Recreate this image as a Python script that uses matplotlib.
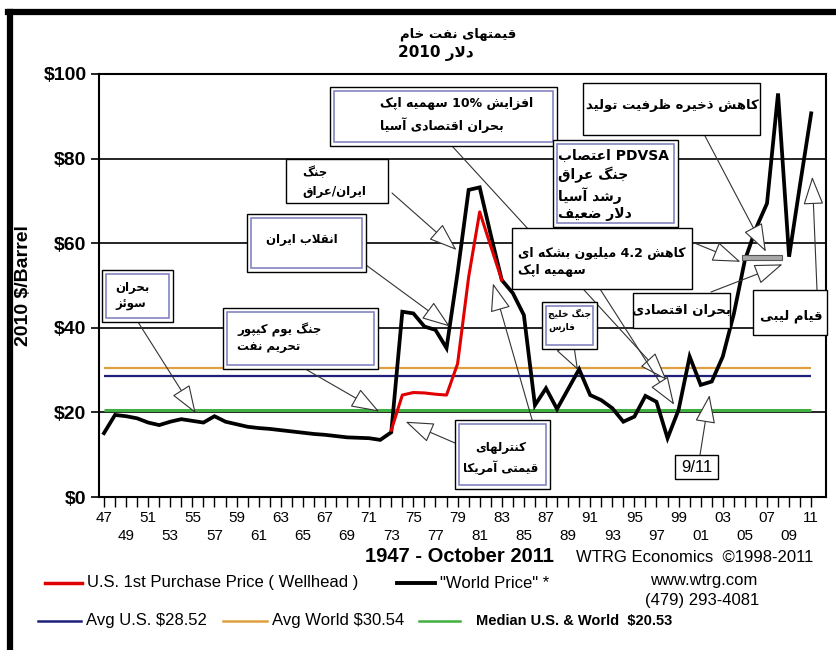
import re
import numpy as np
import matplotlib
matplotlib.use('Agg')
import matplotlib.pyplot as plt
from matplotlib.patches import Rectangle
from matplotlib.lines import Line2D

plt.rcParams['font.family'] = ['Liberation Sans', 'DejaVu Sans']

# ---- data ----
years = list(range(1947, 2012))
world_price = [15.1, 19.4, 19.1, 18.6, 17.6, 17.0, 17.8, 18.4, 18.0, 17.6,
               19.1, 17.8, 17.2, 16.6, 16.3, 16.1, 15.8, 15.5, 15.2, 14.9,
               14.7, 14.4, 14.1, 14.0, 13.9, 13.5, 15.3, 43.8, 43.4, 40.3,
               39.5, 35.2, 53.0, 72.6, 73.2, 62.0, 51.3, 48.2, 43.0, 21.7,
               25.7, 20.8, 25.5, 30.2, 24.1, 22.9, 21.0, 17.8, 19.0, 23.9,
               22.5, 13.9, 20.6, 33.2, 26.5, 27.3, 33.2, 43.3, 56.0, 63.5,
               69.4, 95.4, 56.8, 74.0, 90.7]
us_years = list(range(1973, 1984))
us_wellhead = [15.8, 24.1, 24.7, 24.6, 24.3, 24.1, 31.5, 52.0, 67.4, 59.3, 51.3]

avg_us = 28.52
avg_world = 30.54
median_all = 20.53

# gray marker bar near 2005-2008
bar_years = (2004.7, 2008.4)
bar_values = (56.0, 57.2)

W, H = 836, 650

# ---- simple persian shaping (contextual forms + rtl order) ----
DUAL = {'ئ': 0xFE89, 'ب': 0xFE8F, 'ت': 0xFE95, 'ج': 0xFE9D, 'ح': 0xFEA1, 'خ': 0xFEA5,
        'س': 0xFEB1, 'ش': 0xFEB5, 'ص': 0xFEB9, 'ض': 0xFEBD, 'ظ': 0xFEC5, 'ع': 0xFEC9,
        'ف': 0xFED1, 'ق': 0xFED5, 'ک': 0xFB8E, 'گ': 0xFB92, 'ل': 0xFEDD, 'م': 0xFEE1,
        'ن': 0xFEE5, 'ه': 0xFEE9, 'پ': 0xFB56, 'ی': 0xFBFC}
RIGHT = {'ا': 0xFE8D, 'آ': 0xFE81, 'د': 0xFEA9, 'ذ': 0xFEAB, 'ر': 0xFEAD, 'ز': 0xFEAF, 'و': 0xFEED}


def shape(s):
    out = []
    i = 0
    while i < len(s):
        c = s[i]
        jp = int(i > 0 and s[i - 1] in DUAL)
        nxt = s[i + 1] if i + 1 < len(s) else ''
        if c == 'ل' and nxt in ('ا', 'آ') and nxt:
            out.append(chr((0xFEFB if nxt == 'ا' else 0xFEF5) + jp))
            i += 2
            continue
        if c in DUAL:
            jn = int(nxt in DUAL or nxt in RIGHT)
            out.append(chr(DUAL[c] + [[0, 2], [1, 3]][jp][jn]))
        elif c in RIGHT:
            out.append(chr(RIGHT[c] + jp))
        else:
            out.append(c)
        i += 1
    return ''.join(out)


def fa(text):
    lines = []
    for line in text.split('\n'):
        parts = re.split(r'([A-Za-z0-9][A-Za-z0-9.%]*)', shape(line))
        vis = [p if k % 2 else p[::-1] for k, p in enumerate(parts)]
        lines.append(''.join(reversed(vis)))
    return '\n'.join(lines)


fig = plt.figure(figsize=(W / 100, H / 100), dpi=100)
ax = fig.add_axes([99 / W, 1 - 497 / H, (826 - 99) / W, (497 - 74) / H])

ax.plot(years, world_price, color='black', lw=2.7, zorder=4, solid_joinstyle='miter')
ax.plot(us_years, us_wellhead, color='#e00000', lw=2.2, zorder=5)
ax.hlines(avg_world, years[0], years[-1], color='#e0a040', lw=1.6, zorder=3)
ax.hlines(avg_us, years[0], years[-1], color='#20207a', lw=1.6, zorder=3)
ax.hlines(median_all, years[0], years[-1], color='#40b040', lw=2.2, zorder=3)
ax.add_patch(Rectangle((bar_years[0], bar_values[0]), bar_years[1] - bar_years[0],
                       bar_values[1] - bar_values[0], fc='#a8a8a8', ec='#555555', lw=0.8, zorder=6))

ax.set_xlim(1946.55, 2012.34)
ax.set_ylim(0, 100)
ax.set_yticks(range(0, 101, 20))
ax.set_yticklabels(['$%d' % v for v in range(0, 101, 20)], fontsize=14, fontweight='bold')
ax.yaxis.grid(True, color='black', lw=1.2)
ax.set_axisbelow(True)
ax.set_xticks(years)
xl = []
for y in years:
    k = y - 1947
    if k % 2:
        xl.append('')
    elif k % 4 == 0:
        xl.append('%02d' % (y % 100))
    else:
        xl.append('\n%02d' % (y % 100))
ax.set_xticklabels(xl, fontsize=11)
for t in ax.get_xticklabels():
    t.set_linespacing(1.35)
ax.tick_params(axis='x', direction='out', length=7, width=1, pad=3)
ax.tick_params(axis='y', direction='out', length=6, width=1.2, pad=3)
for sp in ax.spines.values():
    sp.set_linewidth(1.5)
ax.set_ylabel('2010 $/Barrel', fontsize=14, fontweight='bold', labelpad=8)

FA = ['DejaVu Sans']


def px(x, y):
    return x / W, 1 - y / H


def box(x0, y0, x1, y1, inner=False):
    fig.add_artist(Rectangle(px(x0, y1), (x1 - x0) / W, (y1 - y0) / H, transform=fig.transFigure,
                             fc='white', ec='black', lw=1.0, zorder=5))
    if inner:
        fig.add_artist(Rectangle(px(x0 + 4, y1 - 4), (x1 - x0 - 8) / W, (y1 - y0 - 8) / H,
                                 transform=fig.transFigure, fc='none', ec='#8484c0', lw=1.2, zorder=5))


def arrow(tail, tip):
    ax.annotate('', xy=tip, xycoords='data', xytext=(tail[0], H - tail[1]), textcoords='figure pixels',
                arrowprops=dict(arrowstyle='-|>,head_length=1.8,head_width=0.65', mutation_scale=10,
                                fc='white', ec='#333333', lw=0.8, shrinkA=0, shrinkB=0),
                annotation_clip=False, zorder=7)


# annotation boxes: text, box, inner border, text anchor, align, size, line spacing, arrows (tail px -> tip data)
notes = [
    ('بحران\nسوئز', (102, 270, 173, 322), True, (115, 296), 'left', 8.5, 1.45,
     [((138, 322), (1955.3, 19.8))]),
    ('جنگ یوم کیپور\nتحریم نفت', (223, 308, 378, 369), True, (237, 338), 'left', 8.5, 1.35,
     [((307, 370), (1971.9, 20.2))]),
    ('انقلاب ایران', (247, 214, 366, 272), True, (266, 240), 'left', 8.5, 1.4,
     [((366, 265), (1978.3, 40.3))]),
    ('جنگ\nایران/عراق', (286, 159, 388, 203), False, (302, 182), 'left', 8.5, 1.5,
     [((392, 193), (1978.9, 58.4))]),
    ('افزایش 10% سهمیه اپک\nبحران اقتصادی آسیا', (330, 87, 557, 146), True, (380, 115), 'left', 9, 1.55,
     [((452, 146), (1997.9, 27.7))]),
    ('کنترلهای\nقیمتی آمریکا', (455, 420, 550, 489), True, (501, 458), 'center', 8.5, 1.5,
     [((455, 443), (1974.3, 17.8)), ((535, 430), (1982.2, 50.5))]),
    ('کاهش 4.2 میلیون بشکه ای\nسهمیه اپک', (512, 228, 692, 289), False, (518, 262), 'left', 9, 1.45,
     [((600, 289), (1998.6, 21.8))]),
    ('جنگ خلیج\nفارس', (542, 302, 597, 349), True, (548, 320), 'left', 6.5, 1.5,
     [((563, 342), (1989.9, 30.0))]),
    ('PDVSA اعتصاب\nجنگ عراق\nرشد آسیا\nدلار ضعیف', (553, 140, 678, 227), True, (558, 185), 'left', 10, 1.3,
     [((660, 229), (2004.6, 55.6))]),
    ('کاهش ذخیره ظرفیت تولید', (583, 83, 760, 135), False, (672, 105), 'center', 9.5, 1.4,
     [((705, 136), (2006.9, 58.0))]),
    ('بحران اقتصادی', (633, 293, 730, 328), False, (681, 310), 'center', 9.5, 1.4,
     [((711, 292), (2008.4, 55.0))]),
    ('قیام لیبی', (753, 290, 827, 335), False, (791, 316), 'center', 9.5, 1.4,
     [((817, 290), (2011.1, 75.7))]),
]

for text, b, inner, pos, al, size, ls, arrows in notes:
    for tail, tip in arrows:
        arrow(tail, tip)
    box(*b, inner=inner)
    fig.text(*px(*pos), fa(text), family=FA, fontsize=size, fontweight='bold', ha=al, va='center',
             multialignment=al, linespacing=ls, zorder=6)

# 9/11
arrow((700, 455), (2001.8, 24.1))
box(675, 455, 718, 479)
fig.text(*px(697, 467), '9/11', fontsize=12, ha='center', va='center', zorder=6)

# title
fig.text(*px(400, 34), fa('قیمتهای نفت خام'), family=FA, fontsize=9.5, fontweight='bold', va='center')
fig.text(*px(398, 53), fa('دلار 2010'), family=FA, fontsize=11, fontweight='bold', va='center')

# footer
fig.text(*px(365, 557), '1947 - October 2011', fontsize=14.5, fontweight='bold', va='center')
fig.text(*px(576, 557), 'WTRG Economics  \u00a91998-2011', fontsize=12, va='center')
fig.text(*px(704, 581), 'www.wtrg.com', fontsize=12, ha='center', va='center')
fig.text(*px(702, 601), '(479) 293-4081', fontsize=12, ha='center', va='center')

legend_rows = [
    (583, [(45, 82, '#e00000', 2.5, 'U.S. 1st Purchase Price ( Wellhead )'),
           (397, 435, 'black', 2.8, '"World Price" *')]),
    (621, [(38, 81, '#20207a', 1.8, 'Avg U.S. $28.52'),
           (223, 267, '#e0a040', 1.8, 'Avg World $30.54'),
           (419, 460, '#40b040', 1.8, 'Median U.S. & World  $20.53')]),
]
for ly, items in legend_rows:
    for x0, x1, col, lw, lab in items:
        fig.add_artist(Line2D([x0 / W, x1 / W], [1 - ly / H] * 2, color=col, lw=lw, transform=fig.transFigure))
        if lab.startswith('Median'):
            fig.text(*px(x1 + 16, ly), lab, fontsize=10.5, fontweight='bold', va='center')
        else:
            fig.text(*px(x1 + 5, ly), lab, fontsize=12, va='center')

# outer frame (left + top)
fig.add_artist(Line2D([10 / W, 10 / W], [0, 1 - 12 / H], color='black', lw=4.5, transform=fig.transFigure))
fig.add_artist(Line2D([8 / W, 1], [1 - 12 / H] * 2, color='black', lw=4.5, transform=fig.transFigure))

fig.savefig('out.png', dpi=100)
